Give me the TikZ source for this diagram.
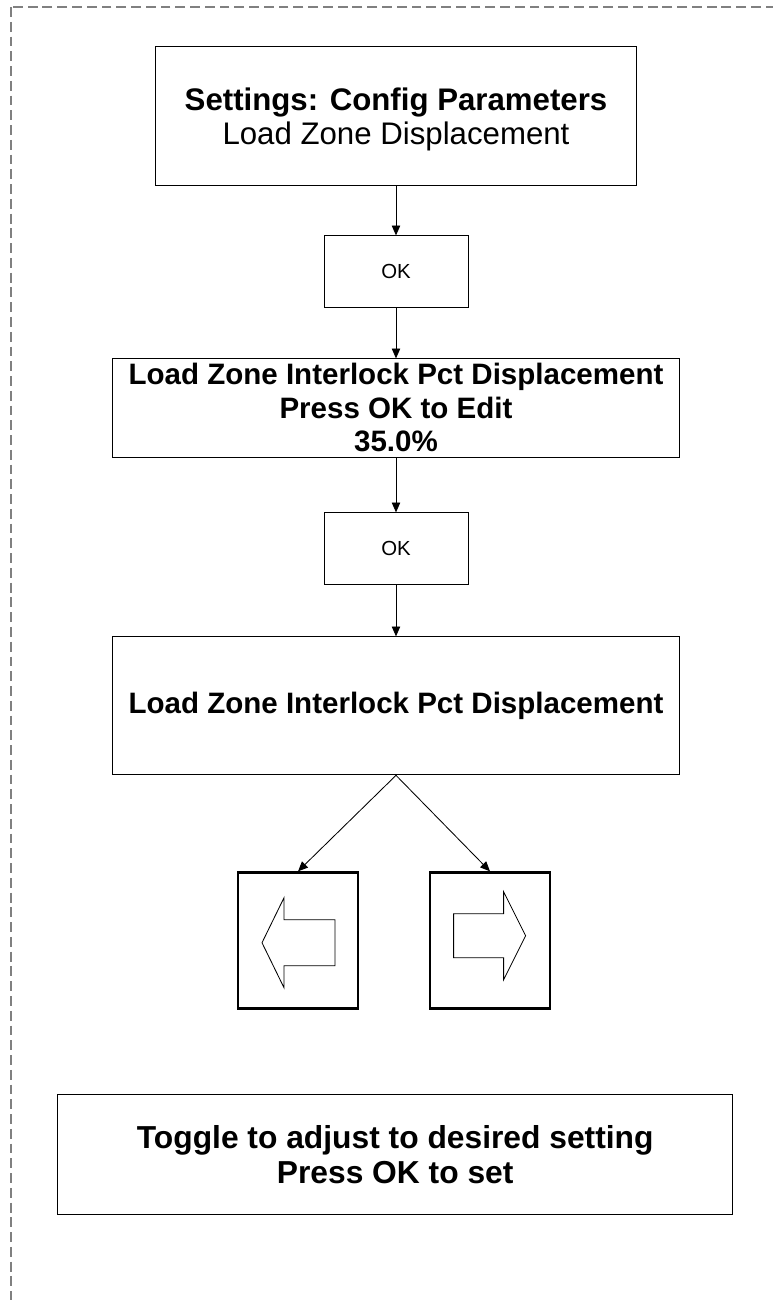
\documentclass[tikz,border=0pt]{standalone}
\usepackage{fontspec}
\setmainfont{Liberation Sans}
\usetikzlibrary{positioning,arrows.meta}

\begin{document}
\begin{tikzpicture}[
  every node/.style={draw, align=center, line width=0.7pt, inner sep=1pt},
  bigbox/.style={font=\fontsize{21}{24}\selectfont\bfseries},
  okbox/.style={minimum width=3.6cm, minimum height=1.8cm, font=\fontsize{14.5}{16}\selectfont},
  keybox/.style={minimum width=3cm, minimum height=3.4cm, line width=2pt},
  flow/.style={-{Triangle[length=7pt,width=6pt]}, line width=0.6pt},
  keyarrow/.style={line width=0.6pt}
]
\useasboundingbox (0,0) rectangle (19.3,-32.5);
\draw[gray, line width=0.8pt, dash pattern=on 7pt off 3.5pt] (0.275,-0.175) rectangle (20,-33);

% screens and keys
\node[bigbox, font=\fontsize{22.2}{24}\selectfont\bfseries, minimum width=12.03cm, minimum height=3.475cm,
  text depth=0.5pt] (settings) at (9.9,-2.91)
  {Settings: Config Parameters\\\textmd{Load Zone Displacement}};
\node[okbox, below=1.225cm of settings] (ok1) {OK};
\node[bigbox, minimum width=14.175cm, minimum height=2.475cm, inner sep=0pt, text height=62pt,
  below=1.25cm of ok1] (pctedit)
  {Load Zone Interlock Pct Displacement\\Press OK to Edit\\35.0\%};
\node[okbox, below=1.35cm of pctedit] (ok2) {OK};
\node[bigbox, minimum width=14.175cm, minimum height=3.45cm, below=1.275cm of ok2] (pctvalue)
  {Load Zone Interlock Pct Displacement};
\node[keybox, below=2.4cm of pctvalue, xshift=-2.45cm] (kleft) {};
\node[keybox, below=2.4cm of pctvalue, xshift=2.35cm] (kright) {};
\node[bigbox, font=\fontsize{22.6}{25.6}\selectfont\bfseries, minimum width=16.875cm, minimum height=3cm,
  below=2.1cm of kleft, xshift=2.43cm] (toggle)
  {Toggle to adjust to desired setting\\Press OK to set};

% arrow glyphs on the keys
\draw[keyarrow, shift={(kleft.center)}, yshift=-0.05cm]
  (-0.9,0) -- (-0.35,1.125) -- (-0.35,0.575) -- (0.925,0.575)
  -- (0.925,-0.575) -- (-0.35,-0.575) -- (-0.35,-1.125) -- cycle;
\draw[keyarrow, shift={(kright.center)}, yshift=0.125cm, xscale=-1]
  (-0.89,0) -- (-0.34,1.1) -- (-0.34,0.55) -- (0.91,0.55)
  -- (0.91,-0.55) -- (-0.34,-0.55) -- (-0.34,-1.1) -- cycle;

% connectors
\draw[flow] (settings) -- (ok1);
\draw[flow] (ok1) -- (pctedit);
\draw[flow] (pctedit) -- (ok2);
\draw[flow] (ok2) -- (pctvalue);
\draw[flow] (pctvalue.south) -- (kleft.north);
\draw[flow] (pctvalue.south) -- (kright.north);
\end{tikzpicture}
\end{document}
